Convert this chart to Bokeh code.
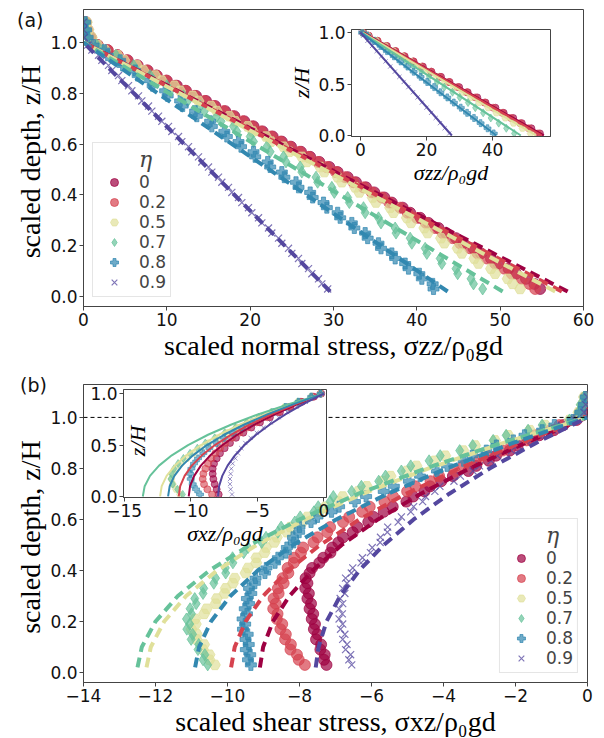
from bokeh.plotting import figure
from bokeh.models import Range1d, FixedTicker, Legend, LegendItem, Span, Label, Div
from bokeh.embed import file_html
from bokeh.resources import INLINE

# ---------------- categories / styling keys ----------------
ETA_LABELS = ["0", "0.2", "0.5", "0.7", "0.8", "0.9"]
COLORS = ["#9e0142", "#d6424e", "#e0e09a", "#66c29a", "#3288b0", "#54479f"]
MARKERS = ["circle", "circle", "hex", "diamond", "plus", "x"]

# ---------------- depth grid of the simulation profiles ----------------
Z_MAIN = [0.03, 0.05, 0.07, 0.09, 0.11, 0.13, 0.15, 0.17, 0.19, 0.21,
          0.23, 0.25, 0.27, 0.29, 0.31, 0.33, 0.35, 0.37, 0.39, 0.41,
          0.43, 0.45, 0.47, 0.49, 0.51, 0.53, 0.55, 0.57, 0.59, 0.61,
          0.63, 0.65, 0.67, 0.69, 0.71, 0.73, 0.75, 0.77, 0.79, 0.81,
          0.83, 0.85, 0.87, 0.89, 0.91, 0.93, 0.95, 0.97, 0.99,
          1.02, 1.05, 1.08]

# ---------------- panel (a): normal stress ----------------
SZZ_0 = [54.8, 54.1, 53.1, 51.9, 51.0, 49.8, 48.9, 47.7, 46.8, 45.6,
         44.7, 43.5, 42.6, 41.4, 40.4, 39.2, 38.3, 37.0, 36.1, 34.9,
         33.9, 32.7, 31.7, 30.5, 29.5, 28.3, 27.2, 26.1, 24.9, 23.8,
         22.7, 21.5, 20.4, 19.3, 18.1, 17.0, 15.8, 14.7, 13.5, 12.3,
         11.2, 10.0, 8.8, 7.7, 6.5, 5.3, 4.1, 2.9, 1.7,
         0.8, 0.4, 0.2]
SZZ_02 = [54.2, 53.5, 52.6, 51.4, 50.5, 49.4, 48.4, 47.3, 46.4, 45.2,
          44.3, 43.1, 42.2, 41.1, 40.0, 38.9, 38.0, 36.7, 35.8, 34.6,
          33.6, 32.4, 31.4, 30.3, 29.2, 28.1, 27.0, 25.9, 24.7, 23.6,
          22.5, 21.3, 20.2, 19.1, 17.9, 16.8, 15.6, 14.5, 13.3, 12.2,
          11.0, 9.9, 8.7, 7.6, 6.4, 5.2, 4.1, 2.9, 1.7,
          0.9, 0.5, 0.3]
SZZ_05 = [52.4, 51.5, 50.9, 49.4, 48.9, 47.4, 46.9, 45.4, 44.9, 43.3,
          42.9, 41.3, 40.9, 39.3, 38.8, 37.2, 36.8, 35.1, 34.7, 33.1,
          32.6, 31.0, 30.5, 28.9, 28.4, 26.8, 26.2, 24.7, 24.0, 22.5,
          21.9, 20.3, 19.7, 18.2, 17.5, 16.0, 15.3, 13.8, 13.1, 11.6,
          10.9, 9.4, 8.6, 7.2, 6.4, 4.9, 4.1, 2.6, 1.7,
          1.0, 0.6, 0.4]
SZZ_07 = [47.9, 46.8, 46.5, 44.9, 44.7, 43.0, 42.8, 41.2, 41.0, 39.4,
          39.2, 37.5, 37.4, 35.7, 35.4, 33.8, 33.6, 31.9, 31.7, 30.1,
          29.8, 28.1, 27.9, 26.2, 26.0, 24.3, 24.0, 22.4, 22.0, 20.4,
          20.0, 18.4, 18.0, 16.5, 16.0, 14.5, 14.0, 12.5, 12.0, 10.4,
          10.0, 8.4, 8.0, 6.4, 6.0, 4.3, 3.9, 2.3, 1.6,
          0.6, 0.4, 0.3]
SZZ_08 = [42.0, 41.9, 40.6, 40.3, 39.0, 38.6, 37.4, 37.0, 35.7, 35.4,
          34.1, 33.8, 32.5, 32.2, 30.8, 30.5, 29.2, 28.8, 27.5, 27.2,
          25.8, 25.5, 24.1, 23.8, 22.4, 22.1, 20.6, 20.4, 18.9, 18.6,
          17.2, 16.9, 15.4, 15.2, 13.6, 13.4, 11.9, 11.6, 10.1, 9.8,
          8.3, 8.0, 6.5, 6.2, 4.7, 4.4, 2.9, 2.5, 1.2,
          0.5, 0.3, 0.2]
SZZ_09 = [29.3, 28.6, 28.2, 27.4, 27.0, 26.2, 25.8, 25.0, 24.6, 23.8,
          23.4, 22.6, 22.2, 21.4, 21.0, 20.2, 19.8, 19.0, 18.6, 17.8,
          17.4, 16.6, 16.2, 15.4, 15.0, 14.2, 13.8, 13.0, 12.6, 11.8,
          11.4, 10.6, 10.2, 9.4, 9.0, 8.2, 7.8, 7.0, 6.6, 5.8,
          5.4, 4.6, 4.2, 3.4, 3.0, 2.2, 1.8, 1.0, 0.5,
          0.1, 0.0, 0.0]
SZZ = [SZZ_0, SZZ_02, SZZ_05, SZZ_07, SZZ_08, SZZ_09]

Z_FIT_A = [0.02, 1.0]
SZZ_FIT = [[58.1, 0.0], [57.4, 0.0], [56.6, 0.0], [50.3, 0.0], [43.7, 0.0], [29.6, 0.0]]

# inset (a)
Z_INSET = [0.02, 0.07, 0.12, 0.17, 0.22, 0.27, 0.32, 0.37, 0.42, 0.47, 0.52,
           0.57, 0.62, 0.67, 0.72, 0.77, 0.82, 0.87, 0.92, 0.97, 1.0]
SZZ_IN_0 = [54.4, 51.8, 48.9, 46.3, 43.4, 40.9, 37.9, 35.4, 32.5, 29.9, 27.0,
            24.4, 21.5, 18.9, 16.1, 13.4, 10.6, 8.0, 5.1, 2.5, 0.8]
SZZ_IN_02 = [53.8, 51.0, 48.4, 45.6, 43.0, 40.2, 37.6, 34.8, 32.2, 29.4, 26.8,
             24.0, 21.4, 18.6, 16.0, 13.2, 10.6, 7.8, 5.2, 2.4, 0.8]
SZZ_IN_05 = [51.6, 49.1, 46.4, 43.9, 41.2, 38.7, 36.0, 33.5, 30.8, 28.3, 25.6,
             23.1, 20.4, 17.9, 15.2, 12.7, 10.0, 7.5, 4.8, 2.3, 0.7]
SZZ_IN_07 = [46.6, 44.2, 41.9, 39.5, 37.2, 34.8, 32.6, 30.1, 27.9, 25.4, 23.2,
             20.8, 18.5, 16.1, 13.8, 11.4, 9.2, 6.7, 4.5, 2.1, 0.6]
SZZ_IN_08 = [40.4, 38.5, 36.4, 34.4, 32.3, 30.4, 28.3, 26.3, 24.2, 22.3, 20.2,
             18.2, 16.1, 14.2, 12.1, 10.1, 8.0, 6.1, 4.0, 2.0, 0.5]
SZZ_IN_09 = [26.9, 25.5, 24.1, 22.8, 21.4, 20.0, 18.6, 17.3, 15.9, 14.5, 13.1,
             11.8, 10.4, 9.0, 7.6, 6.3, 4.9, 3.5, 2.1, 0.8, 0.1]
SZZ_IN = [SZZ_IN_0, SZZ_IN_02, SZZ_IN_05, SZZ_IN_07, SZZ_IN_08, SZZ_IN_09]

Z_FIT_IA = [0.0, 1.0]
SZZ_IN_FIT = [[55.6, 1.0], [54.9, 0.8], [53.2, 0.6], [48.6, 0.4], [41.2, 0.2], [27.7, 0.0]]

# ---------------- panel (b): shear stress ----------------
SXZ_0 = [-7.25, -7.32, -7.3, -7.42, -7.4, -7.54, -7.5, -7.6, -7.57, -7.66,
         -7.62, -7.72, -7.68, -7.78, -7.74, -7.84, -7.78, -7.83, -7.72, -7.65,
         -7.45, -7.34, -7.14, -7.09, -6.92, -6.79, -6.52, -6.39, -6.09, -5.94,
         -5.66, -5.41, -5.03, -4.84, -4.53, -4.37, -4.06, -3.74, -3.31, -3.09,
         -2.74, -2.54, -2.16, -1.94, -1.56, -1.34, -0.93, -0.67, -0.3,
         -0.15, -0.1, -0.05]
SXZ_02 = [-7.85, -8.02, -8.07, -8.25, -8.24, -8.4, -8.38, -8.53, -8.48, -8.63,
          -8.61, -8.73, -8.66, -8.72, -8.58, -8.6, -8.44, -8.47, -8.31, -8.33,
          -8.16, -8.15, -7.96, -7.9, -7.61, -7.5, -7.23, -7.15, -6.79, -6.62,
          -6.26, -6.05, -5.64, -5.4, -5.01, -4.78, -4.36, -4.12, -3.69, -3.45,
          -3.03, -2.78, -2.36, -2.12, -1.69, -1.45, -1.03, -0.78, -0.35,
          -0.2, -0.1, -0.05]
SXZ_05 = [-10.35, -10.5, -10.5, -10.68, -10.65, -10.86, -10.85, -11.0, -10.88, -10.9,
          -10.65, -10.58, -10.33, -10.3, -10.08, -10.05, -9.85, -9.8, -9.5, -9.43,
          -9.2, -9.2, -8.97, -8.93, -8.7, -8.63, -8.35, -8.25, -7.92, -7.78,
          -7.45, -7.28, -6.92, -6.8, -6.37, -6.13, -5.7, -5.47, -5.02, -4.75,
          -4.25, -3.95, -3.45, -3.12, -2.57, -2.2, -1.6, -1.18, -0.5,
          -0.25, -0.15, -0.1]
SXZ_07 = [-10.55, -10.68, -10.63, -10.82, -10.8, -11.01, -10.97, -11.13, -11.05, -11.14,
          -11.0, -11.04, -10.87, -10.91, -10.68, -10.66, -10.38, -10.33, -10.05, -10.06,
          -9.85, -9.86, -9.55, -9.43, -9.05, -8.93, -8.6, -8.51, -8.13, -7.98,
          -7.6, -7.48, -7.15, -7.06, -6.55, -6.28, -5.8, -5.61, -5.17, -4.91,
          -4.4, -4.09, -3.55, -3.19, -2.62, -2.26, -1.65, -1.26, -0.5,
          -0.25, -0.2, -0.1]
SXZ_08 = [-9.35, -9.43, -9.37, -9.49, -9.41, -9.5, -9.44, -9.57, -9.51, -9.58,
          -9.46, -9.52, -9.4, -9.46, -9.34, -9.4, -9.24, -9.22, -8.96, -8.92,
          -8.68, -8.6, -8.38, -8.35, -8.16, -8.18, -8.01, -8.0, -7.68, -7.5,
          -7.11, -6.9, -6.46, -6.15, -5.66, -5.38, -4.96, -4.65, -4.18, -3.9,
          -3.44, -3.2, -2.81, -2.53, -2.06, -1.75, -1.26, -0.92, -0.4,
          -0.2, -0.1, -0.05]
SXZ_09 = [-6.55, -6.63, -6.58, -6.72, -6.68, -6.8, -6.74, -6.86, -6.8, -6.9,
          -6.81, -6.9, -6.8, -6.87, -6.74, -6.8, -6.68, -6.72, -6.56, -6.52,
          -6.29, -6.25, -6.03, -5.98, -5.76, -5.75, -5.56, -5.55, -5.26, -5.17,
          -4.91, -4.83, -4.58, -4.5, -4.24, -4.1, -3.71, -3.53, -3.18, -3.0,
          -2.68, -2.5, -2.11, -1.93, -1.56, -1.35, -0.96, -0.73, -0.35,
          -0.1, -0.05, 0.0]
SXZ = [SXZ_0, SXZ_02, SXZ_05, SXZ_07, SXZ_08, SXZ_09]

Z_FIT_B = [0.02, 0.1, 0.2, 0.3, 0.4, 0.5, 0.6, 0.7, 0.8, 0.9, 1.0]
SXZ_FIT = [
    [-9.1, -9.01, -8.74, -8.28, -7.64, -6.83, -5.82, -4.64, -3.28, -1.73, 0.0],
    [-9.9, -9.8, -9.5, -9.01, -8.32, -7.43, -6.34, -5.05, -3.56, -1.88, 0.0],
    [-12.25, -12.13, -11.76, -11.15, -10.29, -9.19, -7.84, -6.25, -4.41, -2.33, 0.0],
    [-12.5, -12.38, -12.0, -11.38, -10.5, -9.38, -8.0, -6.38, -4.5, -2.38, 0.0],
    [-10.9, -10.79, -10.46, -9.92, -9.16, -8.18, -6.98, -5.56, -3.92, -2.07, 0.0],
    [-7.55, -7.47, -7.25, -6.87, -6.34, -5.66, -4.83, -3.85, -2.72, -1.43, 0.0],
]
SURFACE_Z = 1.0

# inset (b)
SXZ_IN_0 = [-7.9, -8.05, -8.2, -8.3, -8.35, -8.35, -8.25, -8.05, -7.8, -7.45, -7.05,
            -6.6, -6.05, -5.45, -4.8, -4.05, -3.3, -2.5, -1.65, -0.75, -0.2]
SXZ_IN_02 = [-8.4, -8.75, -9.0, -9.1, -9.05, -8.9, -8.7, -8.45, -8.15, -7.8, -7.4,
             -6.9, -6.35, -5.75, -5.05, -4.25, -3.45, -2.6, -1.75, -0.85, -0.25]
SXZ_IN_05 = [-10.8, -11.1, -11.35, -11.45, -11.35, -11.1, -10.75, -10.3, -9.8, -9.25, -8.65,
             -8.0, -7.3, -6.55, -5.75, -4.85, -3.9, -2.95, -1.95, -0.95, -0.25]
SXZ_IN_07 = [-10.6, -11.0, -11.35, -11.5, -11.45, -11.25, -10.95, -10.55, -10.05, -9.5, -8.9,
             -8.2, -7.45, -6.65, -5.8, -4.9, -3.95, -2.95, -1.95, -0.95, -0.25]
SXZ_IN_08 = [-9.3, -9.6, -9.85, -10.0, -10.05, -9.95, -9.75, -9.45, -9.05, -8.6, -8.05,
             -7.5, -6.85, -6.15, -5.4, -4.6, -3.75, -2.85, -1.9, -0.95, -0.25]
SXZ_IN_09 = [-6.9, -7.0, -7.05, -7.05, -7.0, -6.95, -6.85, -6.65, -6.45, -6.2, -5.9,
             -5.5, -5.05, -4.55, -4.0, -3.4, -2.75, -2.05, -1.35, -0.65, -0.15]
SXZ_IN = [SXZ_IN_0, SXZ_IN_02, SXZ_IN_05, SXZ_IN_07, SXZ_IN_08, SXZ_IN_09]

Z_FIT_IB = [0.0, 0.1, 0.2, 0.3, 0.4, 0.5, 0.6, 0.7, 0.8, 0.9, 1.0]
SXZ_IN_FIT = [
    [-10.15, -10.05, -9.74, -9.24, -8.53, -7.61, -6.5, -5.18, -3.65, -1.93, 0.0],
    [-10.9, -10.79, -10.46, -9.92, -9.16, -8.18, -6.98, -5.56, -3.92, -2.07, 0.0],
    [-12.3, -12.18, -11.81, -11.19, -10.33, -9.23, -7.87, -6.27, -4.43, -2.34, 0.0],
    [-13.6, -13.46, -13.06, -12.38, -11.42, -10.2, -8.7, -6.94, -4.9, -2.58, 0.0],
    [-11.7, -11.58, -11.23, -10.65, -9.83, -8.78, -7.49, -5.97, -4.21, -2.22, 0.0],
    [-7.95, -7.87, -7.63, -7.23, -6.68, -5.96, -5.09, -4.05, -2.86, -1.51, 0.0],
]

# ---------------- ticks ----------------
Y_TICKS_MAIN = [0.0, 0.2, 0.4, 0.6, 0.8, 1.0]
Y_TICKS_INSET = [0.0, 0.5, 1.0]
X_TICKS_A = [0, 10, 20, 30, 40, 50, 60]
X_TICKS_B = [-14, -12, -10, -8, -6, -4, -2, 0]
X_TICKS_IA = [0, 20, 40]
X_TICKS_IB = [-15, -10, -5, 0]

SANS = "DejaVu Sans"
SERIF = "Liberation Serif"
SPINE = "#444444"


def minus(v):
    return ("%g" % v).replace("-", "\u2212")


def make_fig(xr, yr, fw, fh, ml, mt, mr, mb, left, top, transparent=False):
    p = figure(x_range=Range1d(*xr), y_range=Range1d(*yr),
               frame_width=fw, frame_height=fh,
               min_border_left=ml, min_border_top=mt,
               min_border_right=mr, min_border_bottom=mb,
               output_backend="svg", toolbar_location=None,
               styles={"position": "absolute", "left": f"{left}px", "top": f"{top}px"})
    p.grid.visible = False
    p.outline_line_color = SPINE
    p.outline_line_width = 1
    p.background_fill_color = "white"
    if transparent:
        p.border_fill_alpha = 0.0
    return p


def style_axes(p, xticks, yticks, tick_size="17px"):
    p.xaxis.ticker = FixedTicker(ticks=xticks, minor_ticks=[])
    p.xaxis.major_label_overrides = {float(t): minus(t) for t in xticks}
    p.yaxis.ticker = FixedTicker(ticks=yticks, minor_ticks=[])
    p.yaxis.major_label_overrides = {float(t): "%.1f" % t for t in yticks}
    for ax in (p.xaxis, p.yaxis):
        ax.major_label_text_font = SANS
        ax.major_label_text_font_size = tick_size
        ax.major_label_text_color = "#111111"
        ax.major_tick_out = 4
        ax.major_tick_in = 0
        ax.minor_tick_line_color = None
        ax.axis_line_color = SPINE
        ax.major_tick_line_color = SPINE
        ax.major_label_standoff = 2


def main_labels(p, xlab, ylab):
    p.xaxis.axis_label = xlab
    p.yaxis.axis_label = ylab
    for ax in (p.xaxis, p.yaxis):
        ax.axis_label_text_font = SERIF
        ax.axis_label_text_font_size = "28px"
        ax.axis_label_text_font_style = "normal"
        ax.axis_label_text_color = "#000000"
        ax.axis_label_standoff = 1


def scatter_series(p, series, zs, size, xlw, alpha):
    rs = []
    for k, xs in enumerate(series):
        if MARKERS[k] == "x":
            r = p.scatter(xs, zs, marker="x", size=size[k], line_color=COLORS[k],
                          line_alpha=0.75, line_width=xlw)
        else:
            r = p.scatter(xs, zs, marker=MARKERS[k], size=size[k], fill_color=COLORS[k],
                          fill_alpha=alpha, line_color=COLORS[k], line_alpha=alpha)
        rs.append(r)
    return rs


def add_legend(p, renderers, location):
    items = [LegendItem(label=lab, renderers=[r]) for lab, r in zip(ETA_LABELS, renderers)]
    lg = Legend(items=items, location=location,
                title="\u00a0\u00a0\u00a0\u00a0\u00a0\u00a0\u03b7",
                title_text_font="DejaVu Serif", title_text_font_style="italic",
                title_text_font_size="22px", title_standoff=0,
                label_text_font=SANS, label_text_font_size="17px",
                label_height=20, glyph_height=20, glyph_width=34, spacing=0,
                label_standoff=8, padding=4, margin=9,
                border_line_color="#cccccc", border_line_width=1,
                background_fill_alpha=0.85)
    p.add_layout(lg)


# ================= panel (a) =================
pa = make_fig((0, 60), (-0.039, 1.13), 500, 297, 83, 9, 21, 20, left=0, top=0)
style_axes(pa, X_TICKS_A, Y_TICKS_MAIN)
main_labels(pa, "scaled normal stress, \u03c3zz/\u03c1\u2080gd", "scaled depth,  z/H")
ra = scatter_series(pa, SZZ, Z_MAIN, [11, 11, 11, 12, 11, 10], 1.2, 0.7)
for k, xs in enumerate(SZZ_FIT):
    pa.line(xs, Z_FIT_A, line_color=COLORS[k], line_width=4, line_dash="10 6")
add_legend(pa, ra, "bottom_left")

# inset (a)
ia = make_fig((-2.73, 57.6), (-0.01, 1.03), 199, 107, 62, 14, 12, 20, left=286, top=15, transparent=True)
style_axes(ia, X_TICKS_IA, Y_TICKS_INSET)
ia.xaxis.axis_label = "\u03c3zz/\u03c1\u2080gd"
ia.yaxis.axis_label = "z/H"
for ax in (ia.xaxis, ia.yaxis):
    ax.axis_label_text_font = SERIF
    ax.axis_label_text_font_size = "22px"
    ax.axis_label_text_font_style = "italic"
    ax.axis_label_text_color = "#000000"
    ax.axis_label_standoff = 1
scatter_series(ia, SZZ_IN, Z_INSET, [7, 7, 7, 8, 7, 6], 0.8, 0.6)
for k, xs in enumerate(SZZ_IN_FIT):
    ia.line(xs, Z_FIT_IA, line_color=COLORS[k], line_width=2)

# ================= panel (b) =================
pb = make_fig((-14, 0), (-0.039, 1.129), 504, 298, 83, 18, 17, 20, left=0, top=366)
style_axes(pb, X_TICKS_B, Y_TICKS_MAIN)
main_labels(pb, "scaled shear stress, \u03c3xz/\u03c1\u2080gd", "scaled depth,  z/H")
pb.add_layout(Span(location=SURFACE_Z, dimension="width", line_color="black",
                   line_width=1, line_dash="4 3"))
rb = scatter_series(pb, SXZ, Z_MAIN, [11, 11, 11, 12, 11, 10], 1.2, 0.7)
for k, xs in enumerate(SXZ_FIT):
    pb.line(xs, Z_FIT_B, line_color=COLORS[k], line_width=4, line_dash="10 6")
add_legend(pb, rb, "bottom_right")

# inset (b)
ib = make_fig((-15.05, 0.2), (-0.01, 1.04), 203, 108, 45, 14, 12, 20, left=78, top=375, transparent=True)
style_axes(ib, X_TICKS_IB, Y_TICKS_INSET)
ib.xaxis.axis_label = "\u03c3xz/\u03c1\u2080gd"
ib.xaxis.axis_label_text_font = SERIF
ib.xaxis.axis_label_text_font_size = "22px"
ib.xaxis.axis_label_text_font_style = "italic"
ib.xaxis.axis_label_text_color = "#000000"
ib.xaxis.axis_label_standoff = 1
scatter_series(ib, SXZ_IN, Z_INSET, [7, 7, 7, 8, 7, 6], 0.8, 0.6)
for k, xs in enumerate(SXZ_IN_FIT):
    ib.line(xs, Z_FIT_IB, line_color=COLORS[k], line_width=2)
ib.add_layout(Label(x=-14.0, y=0.54, text="z/H", angle=1.5708, text_align="center",
                    text_baseline="middle", text_font=SERIF, text_font_size="22px",
                    text_font_style="italic", text_color="#000000"))

# panel tags
tag_style = {"position": "absolute", "font-family": "DejaVu Sans", "font-size": "19px",
             "color": "#111111", "margin": "0px"}
tag_a = Div(text="(a)", width=36, height=24, styles=dict(tag_style, left="17px", top="7px"))
tag_b = Div(text="(b)", width=36, height=24, styles=dict(tag_style, left="20px", top="372px"))

open("out.html", "w").write(file_html([pa, pb, ia, ib, tag_a, tag_b], INLINE))
